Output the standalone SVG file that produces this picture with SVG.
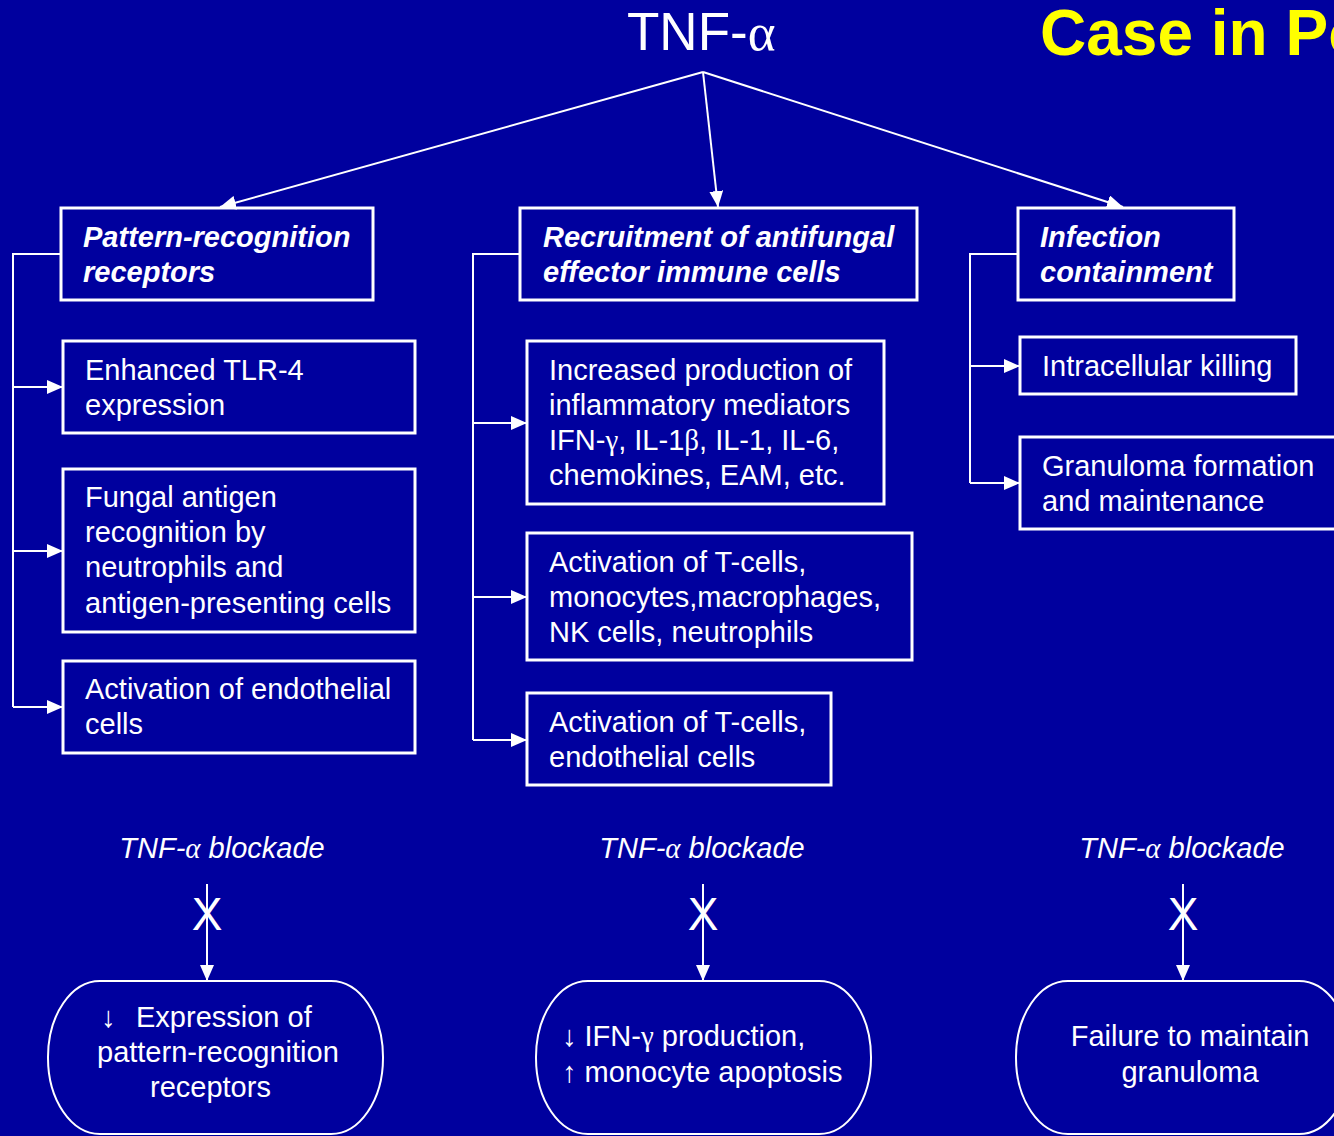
<svg xmlns="http://www.w3.org/2000/svg" width="1334" height="1136" viewBox="0 0 1334 1136">
<style>
.t{font-family:"Liberation Sans",Arial,sans-serif;font-size:29px;fill:#fff}
.h{font-family:"Liberation Sans",Arial,sans-serif;font-size:29px;fill:#fff;font-weight:bold;font-style:italic}
.i{font-style:italic}
.x{font-size:46px}
.g{font-family:"Liberation Serif","Times New Roman",serif}
.box{fill:none;stroke:#fff;stroke-width:3}
.con{fill:none;stroke:#fff;stroke-width:2}
</style>
<defs>
<marker id="ah" markerUnits="userSpaceOnUse" viewBox="0 0 16 14" refX="16" refY="7" markerWidth="16" markerHeight="14" orient="auto">
<path d="M0,0 L16,7 L0,14 z" fill="#fff"/>
</marker>
</defs>
<rect x="0" y="0" width="1334" height="1136" fill="#00009E"/>

<g id="title">
<text x="627" y="50" font-family="Liberation Sans,Arial,sans-serif" font-size="53" fill="#fff">TNF-<tspan class="g">α</tspan></text>
</g>
<g id="case-title">
<text x="1040" y="55" font-family="Liberation Sans,Arial,sans-serif" font-size="64" font-weight="bold" fill="#FFFF00">Case in Point</text>
</g>

<g id="connectors">
<line class="con" x1="703" y1="72" x2="220" y2="207" marker-end="url(#ah)"/>
<line class="con" x1="703" y1="72" x2="718" y2="207" marker-end="url(#ah)"/>
<line class="con" x1="703" y1="72" x2="1123" y2="207" marker-end="url(#ah)"/>
<polyline class="con" points="61,254 13,254 13,707"/>
<line class="con" x1="13" y1="387" x2="63" y2="387" marker-end="url(#ah)"/>
<line class="con" x1="13" y1="551" x2="63" y2="551" marker-end="url(#ah)"/>
<line class="con" x1="13" y1="707" x2="63" y2="707" marker-end="url(#ah)"/>
<polyline class="con" points="520,254 473,254 473,740"/>
<line class="con" x1="473" y1="423" x2="527" y2="423" marker-end="url(#ah)"/>
<line class="con" x1="473" y1="597" x2="527" y2="597" marker-end="url(#ah)"/>
<line class="con" x1="473" y1="740" x2="527" y2="740" marker-end="url(#ah)"/>
<polyline class="con" points="1018,254 970,254 970,483"/>
<line class="con" x1="970" y1="366" x2="1020" y2="366" marker-end="url(#ah)"/>
<line class="con" x1="970" y1="483" x2="1020" y2="483" marker-end="url(#ah)"/>
<line class="con" x1="207" y1="884" x2="207" y2="981" marker-end="url(#ah)"/>
<line class="con" x1="703" y1="884" x2="703" y2="981" marker-end="url(#ah)"/>
<line class="con" x1="1183" y1="884" x2="1183" y2="981" marker-end="url(#ah)"/>
</g>

<g id="prr">
<rect class="box" x="61" y="208" width="312" height="92"/>
<text class="h" x="83" y="247">Pattern-recognition</text>
<text class="h" x="83" y="282">receptors</text>
</g>
<g id="recruitment">
<rect class="box" x="520" y="208" width="397" height="92"/>
<text class="h" x="543" y="247">Recruitment of antifungal</text>
<text class="h" x="543" y="282">effector immune cells</text>
</g>
<g id="containment">
<rect class="box" x="1018" y="208" width="216" height="92"/>
<text class="h" x="1040" y="247">Infection</text>
<text class="h" x="1040" y="282">containment</text>
</g>

<g id="tlr4">
<rect class="box" x="63" y="341" width="352" height="92"/>
<text class="t" x="85" y="380">Enhanced TLR-4</text>
<text class="t" x="85" y="415">expression</text>
</g>
<g id="fungal-antigen">
<rect class="box" x="63" y="469" width="352" height="163"/>
<text class="t" x="85" y="507">Fungal antigen</text>
<text class="t" x="85" y="542">recognition by</text>
<text class="t" x="85" y="577">neutrophils and</text>
<text class="t" x="85" y="613">antigen-presenting cells</text>
</g>
<g id="endothelial">
<rect class="box" x="63" y="661" width="352" height="92"/>
<text class="t" x="85" y="699">Activation of endothelial</text>
<text class="t" x="85" y="734">cells</text>
</g>

<g id="mediators">
<rect class="box" x="527" y="341" width="357" height="163"/>
<text class="t" x="549" y="380">Increased production of</text>
<text class="t" x="549" y="415">inflammatory mediators</text>
<text class="t" x="549" y="450">IFN-<tspan class="g">γ</tspan>, IL-1<tspan class="g">β</tspan>, IL-1, IL-6,</text>
<text class="t" x="549" y="485">chemokines, EAM, etc.</text>
</g>
<g id="activation-t">
<rect class="box" x="527" y="533" width="385" height="127"/>
<text class="t" x="549" y="572">Activation of T-cells,</text>
<text class="t" x="549" y="607">monocytes,macrophages,</text>
<text class="t" x="549" y="642">NK cells, neutrophils</text>
</g>
<g id="activation-endo">
<rect class="box" x="527" y="693" width="304" height="92"/>
<text class="t" x="549" y="732">Activation of T-cells,</text>
<text class="t" x="549" y="767">endothelial cells</text>
</g>

<g id="killing">
<rect class="box" x="1020" y="337" width="276" height="57"/>
<text class="t" x="1042" y="376">Intracellular killing</text>
</g>
<g id="granuloma">
<rect class="box" x="1020" y="437" width="330" height="92"/>
<text class="t" x="1042" y="476">Granuloma formation</text>
<text class="t" x="1042" y="511">and maintenance</text>
</g>

<g id="blockade-1">
<text class="t i" x="222" y="858" text-anchor="middle">TNF-<tspan class="g">α</tspan> blockade</text>
<text class="t x" x="207" y="930" text-anchor="middle">X</text>
</g>
<g id="blockade-2">
<text class="t i" x="702" y="858" text-anchor="middle">TNF-<tspan class="g">α</tspan> blockade</text>
<text class="t x" x="703" y="930" text-anchor="middle">X</text>
</g>
<g id="blockade-3">
<text class="t i" x="1182" y="858" text-anchor="middle">TNF-<tspan class="g">α</tspan> blockade</text>
<text class="t x" x="1183" y="930" text-anchor="middle">X</text>
</g>

<g id="outcome-1">
<rect class="con" x="48" y="981" width="335" height="153" rx="52" ry="76"/>
<text class="t" x="101" y="1027">↓</text>
<text class="t" x="136" y="1027">Expression of</text>
<text class="t" x="97" y="1062">pattern-recognition</text>
<text class="t" x="150" y="1097">receptors</text>
</g>
<g id="outcome-2">
<rect class="con" x="536" y="981" width="335" height="153" rx="52" ry="76"/>
<text class="t" x="562" y="1046">↓ IFN-<tspan class="g">γ</tspan> production,</text>
<text class="t" x="562" y="1082">↑ monocyte apoptosis</text>
</g>
<g id="outcome-3">
<rect class="con" x="1016" y="981" width="335" height="153" rx="52" ry="76"/>
<text class="t" x="1190" y="1046" text-anchor="middle">Failure to maintain</text>
<text class="t" x="1190" y="1082" text-anchor="middle">granuloma</text>
</g>
</svg>
